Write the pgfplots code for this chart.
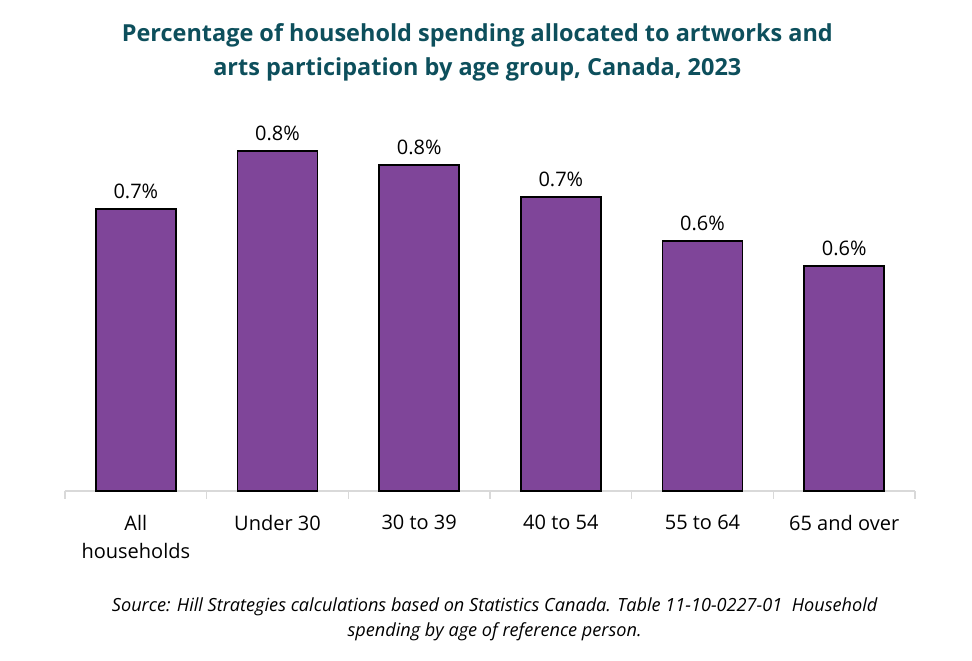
\documentclass[border=0pt]{standalone}
\usepackage{pgfplots}
\pgfplotsset{compat=1.18}
\usepackage{fontspec}
\setmainfont{Open Sans}
\definecolor{barpurple}{RGB}{127,69,153}
\definecolor{titleteal}{RGB}{13,79,92}
\definecolor{axisgray}{RGB}{217,217,217}
\begin{document}
\begin{tikzpicture}
\path[use as bounding box] (0,0) rectangle (729pt,495.75pt);
\node[align=center, font=\fontsize{17.6}{26}\selectfont\bfseries, text=titleteal] at (358pt,456.4pt)
  {Percentage of household spending allocated to artworks and\\arts participation by age group, Canada, 2023};
\begin{axis}[
    at={(48.75pt,127.5pt)}, anchor=south west,
    scale only axis,
    width=637.5pt, height=273.375pt,
    ymin=0, ymax=0.9,
    xmin=-0.5, xmax=5.5,
    axis y line=none,
    axis x line*=bottom,
    x axis line style={axisgray, line width=1pt, -},
    xtick={0,...,5},
    xticklabels={All\\households, Under 30, 30 to 39, 40 to 54, 55 to 64, 65 and over},
    major tick length=0pt,
    minor xtick={-0.5,0.5,...,5.5},
    minor tick length=6pt,
    tick align=outside,
    minor tick style={axisgray, line width=1pt},
    xticklabel style={font=\fontsize{15}{21}\selectfont, align=center, anchor=north, yshift=-14.5pt},
    ybar, bar width=60pt,
    /pgf/number format/assume math mode=true,
    nodes near coords={\pgfmathprintnumber[fixed, fixed zerofill, precision=1, assume math mode=true]{\pgfplotspointmeta}\%},
    nodes near coords style={font=\fontsize{15}{18}\selectfont, text=black, yshift=4pt},
    clip=false,
]
\addplot[fill=barpurple, draw=black, line width=1.1pt] coordinates {
  (0,0.696) (1,0.840) (2,0.805) (3,0.726) (4,0.617) (5,0.556)
};
\end{axis}
\node[align=center, font=\fontsize{13.6}{18.75}\selectfont\itshape] at (371pt,31.1pt)
  {Source: Hill Strategies calculations based on Statistics Canada. Table 11-10-0227-01\ \ Household\\spending by age of reference person.};
\end{tikzpicture}
\end{document}
